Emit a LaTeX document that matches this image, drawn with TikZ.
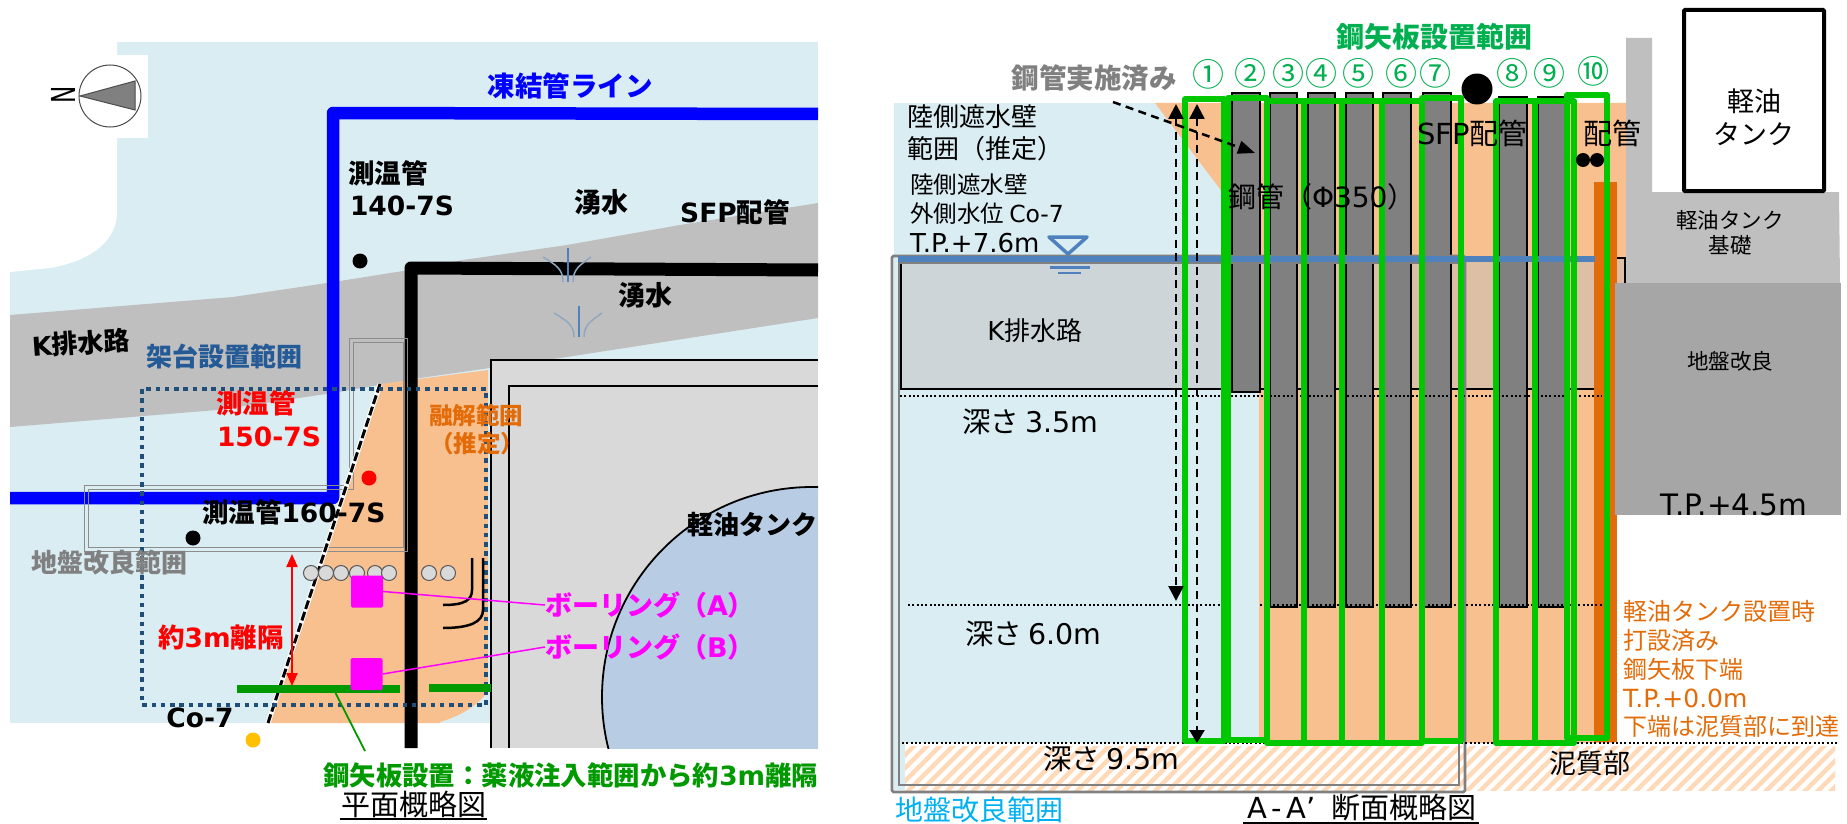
\documentclass[tikz,border=0pt]{standalone}
\usepackage{fontspec}
\setmainfont{Noto Sans CJK JP}
\newfontfamily\dv{DejaVu Sans}
\newfontfamily\dvB{DejaVu Sans}
\usetikzlibrary{arrows.meta}
\definecolor{lblue}{HTML}{DAEDF3}
\definecolor{oran}{HTML}{F9C08F}
\definecolor{dkor}{HTML}{E36C09}
\definecolor{navy}{HTML}{1F4E79}
\definecolor{frame}{HTML}{00C800}
\definecolor{gtxt}{HTML}{00B050}
\definecolor{hatchc}{HTML}{FFD9B8}
\definecolor{bldg}{HTML}{D9D9D9}
\definecolor{kdrain}{HTML}{CDD5D8}
\definecolor{beige}{HTML}{DDBFA5}
\definecolor{kadaic}{HTML}{245A96}
\definecolor{magen}{HTML}{FF00FF}
\definecolor{purebl}{HTML}{0000FF}
\definecolor{waterb}{HTML}{4F81BD}
\definecolor{sheetg}{HTML}{009900}
\definecolor{tankb}{HTML}{B8CCE4}
\definecolor{cyanl}{HTML}{00B0F0}
\definecolor{yel}{HTML}{FFC000}
\definecolor{sprc}{HTML}{8FA8BF}
\tikzset{
 t/.style={inner sep=0pt,outer sep=0pt},
 fs/.style={t,font=\fontsize{#1}{#1}\selectfont},
 fb/.style={t,font=\fontsize{#1}{#1}\selectfont\bfseries},
 dot/.style={circle,inner sep=0pt,minimum size=15pt,fill=black},
 ring/.style={circle,inner sep=0pt,minimum size=15pt,fill=bldg,draw=black!65,line width=1pt},
 sq/.style={inner sep=0pt,minimum size=32pt,fill=magen,rounded corners=1.5pt},
 pile/.style={fill=black!50,draw=black,line width=1.8pt},
 gfr/.style={draw=frame,line width=5.5pt,line join=round},
 dottedl/.style={draw=black,line width=2pt,dash pattern=on 2pt off 2.3pt},
 vdash/.style={draw=black,line width=2.5pt,dash pattern=on 8pt off 5.5pt},
 circnum/.style={t,text=gtxt,font=\fontsize{32}{32}\selectfont},
 spring/.style={line width=1.5pt,draw=#1},
}
\begin{document}
\begin{tikzpicture}[x=1pt,y=-1pt]
\useasboundingbox (0,0) rectangle (1847,824);
\fill[white] (0,0) rectangle (1847,825);
% ---------- left panel ----------
\fill[lblue] (10,42) rectangle (818,723);
\fill[white] (0,42) -- (117,42) -- (117,215) .. controls (115,245) and (85,262) .. (50,268) -- (10,272) -- (0,272) -- cycle;
\fill[white] (35,55) rectangle (148,138);
\fill[black!25] (10,315) -- (233,297) -- (327,283) -- (403,271) -- (463,260) -- (567,245) -- (680,225) -- (818,203) -- (818,318) -- (567,357) -- (420,378) -- (333,393) -- (217,410) -- (10,427) -- cycle;
% compass
\node[circle,draw=black!70,line width=1pt,minimum size=62pt,inner sep=0pt] (compass) at (110,96) {};
\filldraw[fill=black!50,draw=black!70,line width=1pt] (80,96) -- (135,81) -- (135,110) -- cycle;
\node[fs=33,rotate=90] (north) at (63,95) {\scalebox{0.7}[1]{\dv N}};
% melt area and building
\fill[oran] (380,384) -- (488,370) -- (488,690) .. controls (480,705) and (460,716) .. (440,722) -- (440,723) -- (268,723) -- cycle;
\fill[bldg] (491,360) rectangle (818,748);
\draw[black,line width=1.8pt] (491,748) -- (491,360) -- (818,360);
\draw[black,line width=1.8pt] (509,748) -- (509,386) -- (818,386);
\begin{scope}
\clip (491,360) rectangle (818,748);
\filldraw[fill=tankb,draw=black,line width=1.8pt] (812,697) circle (210pt);
\end{scope}
% freeze line
\draw[purebl,line width=12.5pt,line join=round] (10,498) -- (333,498) -- (333,113) -- (818,114);
\draw[black,line width=13pt,line join=round] (411,748) -- (411,268) -- (818,270);
% springs
\foreach \cx/\yt/\yb/\side in {568/248/282/257,579/306/337/313}{
 \draw[spring=sprc] (\cx-25,\side) .. controls (\cx-12,\side+8) and (\cx-5,\side+12) .. (\cx-5,\yb);
 \draw[spring=sprc] (\cx+23,\side) .. controls (\cx+12,\side+8) and (\cx+5,\side+12) .. (\cx+5,\yb);
 \draw[line width=2pt,draw=waterb] (\cx,\yt) -- (\cx,\yb);
}
% ground-improvement outline
\draw[black!45,line width=1pt] (349,338) -- (349,485) -- (84,485) -- (84,551) -- (407,551) -- (407,338) -- cycle;
\draw[black!45,line width=1pt] (353,342) -- (353,489) -- (88,489) -- (88,547) -- (403,547) -- (403,342) -- cycle;
% dashed boundary
\draw[white,line width=5pt] (380,384) -- (268,723);
\draw[black,line width=3pt,dash pattern=on 9pt off 3pt] (380,384) -- (268,723);
% navy dotted frame
\draw[navy,line width=4.5pt,dash pattern=on 4.5pt off 4.8pt] (142,389) rectangle (486,705);
% black curves
\draw[black,line width=2.5pt] (472,558) -- (472,590) .. controls (472,600) and (465,605) .. (443,605);
\draw[black,line width=2.5pt] (483,558) -- (483,610) .. controls (483,622) and (470,628) .. (443,628);
% dots
\node[dot] (d140) at (360,261) {};
\node[dot] (d160) at (193,538) {};
\node[dot,fill=red] (d150) at (369,478) {};
\node[dot,fill=yel] (dco7) at (253,740) {};
\foreach \n/\x in {a/311,b/326,c/341,d/357,e/375,f/389,g/429,h/448}{
 \node[ring] (ring\n) at (\x,573) {};
}
% green
\coordinate (barL) at (237,689); \coordinate (barR) at (400,689);
\coordinate (bar2L) at (429,688); \coordinate (bar2R) at (491,688);
\coordinate (ldrA) at (335,692); \coordinate (ldrB) at (365,751);
\draw[sheetg,line width=8pt] (barL) -- (barR);
\draw[sheetg,line width=8pt] (bar2L) -- (bar2R);
\draw[sheetg,line width=1.8pt] (ldrA) -- (ldrB);
% bores
\node[sq] (boreA) at (367,591.5) {};
\node[sq] (boreB) at (366.5,674) {};
\node[fb=27,text=magen,anchor=west] (lblA) at (545,605) {ボーリング（{\dvB A}）};
\node[fb=27,text=magen,anchor=west] (lblB) at (545,647) {ボーリング（{\dvB B}）};
\draw[magen,line width=1.5pt] (boreA.east) -- (lblA.west);
\draw[magen,line width=1.5pt] (boreB.east) -- (lblB.west);
% red arrow
\coordinate (arTop) at (292,554); \coordinate (arBot) at (292,686);
\draw[red,line width=2pt,{Triangle[length=13pt,width=11pt]}-{Triangle[length=13pt,width=11pt]}] (arTop) -- (arBot);
% labels, left
\node[fb=27.5,text=purebl] (freeze) at (570,86) {凍結管ライン};
\node[fb=26.5,anchor=west] (t140a) at (348,173) {測温管};
\node[fb=26.5,anchor=west] (t140b) at (350,206) {{\dvB 140-7S}};
\node[fb=27] (spr1) at (601,202) {湧水};
\node[fb=27] (spr2) at (645,295) {湧水};
\node[fb=26.5] (sfp) at (735,212) {{\dvB SFP}配管};
\node[fb=26,rotate=4] (kdr) at (81,343) {{\dvB K}排水路};
\node[fb=26,text=kadaic] (kadai) at (224,357) {架台設置範囲};
\node[fb=26.5,text=red,anchor=west] (t150a) at (216,403) {測温管};
\node[fb=26.5,text=red,anchor=west] (t150b) at (217,437) {{\dvB 150-7S}};
\node[fb=26.5,anchor=west] (t160) at (202,512) {測温管{\dvB 160-7S}};
\node[fb=26,text=black!50] (jiban) at (109,563) {地盤改良範囲};
\node[fb=26.5,text=red] (m3) at (221,637) {約{\dvB 3m}離隔};
\node[fb=26.5] (co7) at (200,718) {{\dvB Co-7}};
\node[fb=23.5,text=dkor] (melt1) at (476,415) {融解範囲};
\node[fb=23.5,text=dkor] (melt2) at (477,444) {（推定）};
\node[fb=26,anchor=east] (tank) at (817,525) {軽油タンク};
\node[fb=26.4,text=sheetg,anchor=east] (sheetlbl) at (818,775) {鋼矢板設置：薬液注入範囲から約{\dvB 3m}離隔};
\node[fs=29,anchor=base] (planT) at (413.5,815) {平面概略図};
\coordinate (ulA) at (340,819); \coordinate (ulB) at (487,819);
\draw[black,line width=1.5pt] (ulA) -- (ulB);
% ---------- right panel ----------
\fill[lblue] (894,103) rectangle (1232,743);
\fill[lblue] (1232,389) rectangle (1259,743);
\fill[lblue] (894,743) rectangle (905,790);
\fill[oran] (1155,103) -- (1626,103) -- (1626,283) -- (1615,283) -- (1615,743) -- (1259,743) -- (1259,392) -- (1232,392) -- (1232,193) -- (1223,193) -- cycle;
\begin{scope}
\clip (905,746) rectangle (1835,790);
\foreach \x in {860,873,...,1850}{
 \draw[hatchc,line width=4.5pt] (\x,800) -- (\x+60,740);
}
\end{scope}
\fill[kdrain] (901,263) rectangle (1232,389);
\fill[beige] (1232,258) rectangle (1625,389);
\draw[black,line width=1.3pt] (901,263) -- (901,389) -- (1232,389);
\draw[black,line width=1.2pt] (1260,389) -- (1595,389);
\draw[black,line width=1.2pt] (1617,258) -- (1625,258) -- (1625,283);
% piles
\foreach \n/\a/\b/\tp/\bt in {p/1232/1260/93/392,q/1270/1297/93/607,r/1308/1335/93/607,s/1346/1373/93/607,u/1383/1411/93/607,v/1423/1451/93/607,w/1499/1527/97/607,z/1538/1565/97/607}{
 \draw[pile] (\a,\tp) rectangle (\b,\bt);
}
% ground-improvement frame
\draw[black!50,line width=2.6pt,rounded corners=1.5pt] (892,256) rectangle (1465,792);
\draw[black!50,line width=2.6pt] (899,263) rectangle (1459,785);
% tank, foundation
\fill[black!25] (1626,38) -- (1652,38) -- (1652,192) -- (1839,192) -- (1840,283) -- (1626,283) -- cycle;
\fill[dkor] (1594,182) rectangle (1617,742);
\fill[black!35] (1615,283) rectangle (1841,515);
\draw[draw=black,fill=white,line width=4pt,rounded corners=1pt] (1684,10) rectangle (1824,191);
% water line
\draw[waterb,line width=6pt] (898,259) -- (1595,259);
\draw[waterb,line width=3.5pt,line join=round] (1049,237) -- (1087,237) -- (1068,254) -- cycle;
\draw[waterb,line width=3pt] (1050,267) -- (1090,267);
\draw[waterb,line width=2pt] (1058,273) -- (1081,273);
% dotted levels
\coordinate (l35a) at (900,396); \coordinate (l35b) at (1602,396);
\draw[dottedl] (l35a) -- (l35b);
\draw[dottedl] (908,605) -- (1220,605);
\draw[dottedl] (1260,605) -- (1610,605);
\draw[dottedl] (902,743) -- (1838,743);
% green frames
\foreach \a/\b/\tp/\bt in {1185/1224/99/741,1228/1267/98/740,1267/1304/101/743,1304/1342/101/743,1342/1382/101/743,1382/1422/101/743,1422/1461/98/741,1496/1535/101/743,1535/1574/101/743,1567/1607/95/738}{
 \draw[gfr] (\a,\tp) rectangle (\b,\bt);
}
% dashed arrows
\coordinate (a1t) at (1176,104); \coordinate (a1b) at (1176,601);
\coordinate (a2t) at (1197,104); \coordinate (a2b) at (1197,743);
\coordinate (a3s) at (1113,102); \coordinate (a3e) at (1255,153);
\draw[vdash,{Triangle[length=15pt,width=15pt]}-{Triangle[length=15pt,width=15pt]}] (a1t) -- (a1b);
\draw[vdash,{Triangle[length=15pt,width=15pt]}-{Triangle[length=13pt,width=15pt]}] (a2t) -- (a2b);
\draw[vdash,-{Triangle[length=17pt,width=13pt]}] (a3s) -- (a3e);
% black dots
\node[dot,minimum size=31pt] (dsfp) at (1477,89) {};
\node[dot,minimum size=14pt] (dp1) at (1583,160) {};
\node[dot,minimum size=14pt] (dp2) at (1597,160) {};
% labels, right
\node[fb=27.5,text=black!50] (done) at (1094,78) {鋼管実施済み};
\node[fb=28,text=gtxt] (range) at (1434.5,37) {鋼矢板設置範囲};
\node[circnum] (n1) at (1208,74) {①};
\node[circnum] (n2) at (1250,73) {②};
\node[circnum] (n3) at (1288,73) {③};
\node[circnum] (n4) at (1321,73) {④};
\node[circnum] (n5) at (1358,73) {⑤};
\node[circnum] (n6) at (1401,73) {⑥};
\node[circnum] (n7) at (1435,73) {⑦};
\node[circnum] (n8) at (1512,73) {⑧};
\node[circnum] (n9) at (1549,73) {⑨};
\node[circnum] (n10) at (1593,71) {⑩};
\node[fs=26,anchor=west] (w1) at (907,117) {陸側遮水壁};
\node[fs=26,anchor=west] (w2) at (907,149) {範囲（推定）};
\node[fs=23.5,anchor=west] (w3) at (910,185) {陸側遮水壁};
\node[fs=23.5,anchor=west] (w4) at (910,214) {外側水位 {\dv Co-7}};
\node[fs=26,anchor=west] (w5) at (910,243) {{\dv T.P.+7.6m}};
\node[fs=26] (kd2) at (1035,331) {{\dv K}排水路};
\node[fs=28.5,anchor=west] (d35) at (962,422) {深さ {\dv 3.5m}};
\node[fs=28.5,anchor=west] (d60) at (965,634) {深さ {\dv 6.0m}};
\node[fs=28.5,anchor=west] (d95) at (1043,759) {深さ {\dv 9.5m}};
\node[fs=28,anchor=west] (pipe) at (1228,197) {鋼管（{\dv Φ350}）};
\node[fs=29,anchor=west] (sfp2) at (1417,133) {{\dv SFP}配管};
\node[fs=29,anchor=west] (pipe2) at (1583,133) {配管};
\node[fs=27] (tk1) at (1754,101) {軽油};
\node[fs=27] (tk2) at (1754,134) {タンク};
\node[fs=21.5] (tb1) at (1730,220) {軽油タンク};
\node[fs=21.5] (tb2) at (1730,245) {基礎};
\node[fs=21.5] (jb) at (1730,361) {地盤改良};
\node[fs=29.5,anchor=base] (tp45) at (1734,515) {\dv T.P.+4.5m};
\node[fs=24,text=dkor,anchor=west] (o1) at (1623,611) {軽油タンク設置時};
\node[fs=24,text=dkor,anchor=west] (o2) at (1623,640) {打設済み};
\node[fs=24,text=dkor,anchor=west] (o3) at (1623,669) {鋼矢板下端};
\node[fs=25,text=dkor,anchor=west] (o4) at (1623,698) {{\dv T.P.+0.0m}};
\node[fs=24,text=dkor,anchor=west] (o5) at (1623,726) {下端は泥質部に到達};
\node[fs=27] (mud) at (1590,763) {泥質部};
\node[fs=28,text=cyanl,anchor=west] (jb2) at (895,810) {地盤改良範囲};
\node[fs=29,anchor=west] (secT) at (1247,808) {{\dv A\,-\,A’}\hspace{15pt}断面概略図};
\coordinate (ul2A) at (1243,823); \coordinate (ul2B) at (1479,823);
\draw[black,line width=1.5pt] (ul2A) -- (ul2B);
\end{tikzpicture}
\end{document}
